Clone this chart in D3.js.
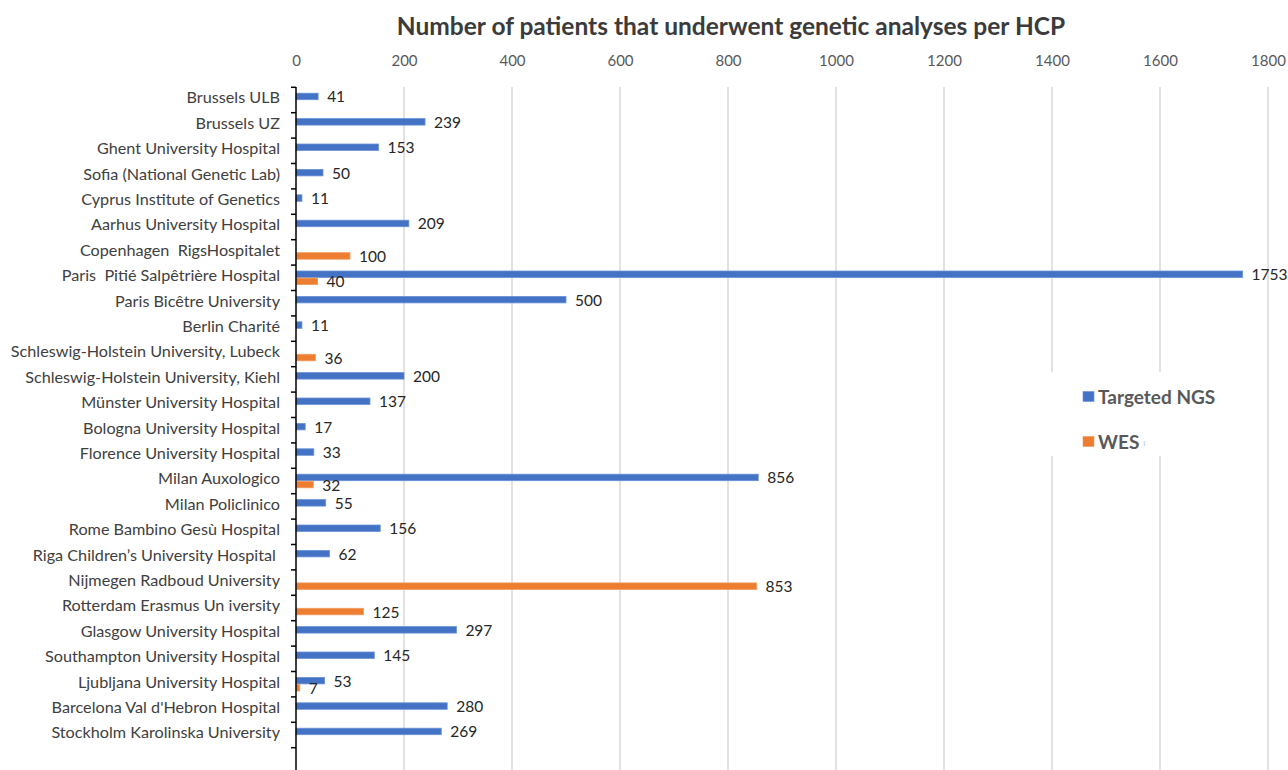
<!DOCTYPE html>
<html>
<head>
<meta charset="utf-8">
<script src="https://cdn.jsdelivr.net/npm/d3@7"></script>
<style>
  body { margin: 0; background: #fff; }
  svg text { font-family: Lato, "Open Sans", sans-serif; }
  .cat { white-space: pre; }
</style>
</head>
<body>
<svg id="chart" width="1288" height="770"></svg>
<script>
const categories = [
  "Brussels ULB", "Brussels UZ", "Ghent University Hospital", "Sofia (National Genetic Lab)",
  "Cyprus Institute of Genetics", "Aarhus University Hospital", "Copenhagen  RigsHospitalet",
  "Paris  Pitié Salpêtrière Hospital", "Paris Bicêtre University", "Berlin Charité",
  "Schleswig-Holstein University, Lubeck", "Schleswig-Holstein University, Kiehl",
  "Münster University Hospital", "Bologna University Hospital", "Florence University Hospital",
  "Milan Auxologico", "Milan Policlinico", "Rome Bambino Gesù Hospital",
  "Riga Children’s University Hospital ", "Nijmegen Radboud University",
  "Rotterdam Erasmus Un iversity", "Glasgow University Hospital", "Southampton University Hospital",
  "Ljubljana University Hospital", "Barcelona Val d'Hebron Hospital", "Stockholm Karolinska University"
];
const targetedNGS = [41, 239, 153, 50, 11, 209, null, 1753, 500, 11, null, 200, 137, 17, 33, 856, 55, 156, 62, null, null, 297, 145, 53, 280, 269];
const wes =         [null, null, null, null, null, null, 100, 40, null, null, 36, null, null, null, null, 32, null, null, null, 853, 125, null, null, 7, null, null];
const xTicks = [0, 200, 400, 600, 800, 1000, 1200, 1400, 1600, 1800];
const seriesNames = ["Targeted NGS", "WES"];
const colors = ["#4472C4", "#ED7D31"];
const strokes = ["#6a92d8", "#f29a5c"];
const title = "Number of patients that underwent genetic analyses per HCP";

const svg = d3.select("#chart");
const x = d3.scaleLinear().domain([0, 1800]).range([296, 1268]);
const y = d3.scaleBand().domain(categories).range([87.3, 747.7]).padding(0);
const axisBottomY = 770;

// gridlines
svg.append("g").selectAll("line").data(xTicks.filter(d => d > 0)).join("line")
  .attr("x1", d => x(d)).attr("x2", d => x(d))
  .attr("y1", 87).attr("y2", axisBottomY)
  .attr("stroke", "#d9d9d9").attr("stroke-width", 1.5);

// top axis labels
const xAxis = d3.axisTop(x).tickValues(xTicks).tickFormat(d3.format("d")).tickSize(0).tickPadding(0);
const gx = svg.append("g").attr("transform", "translate(0,66)").call(xAxis);
gx.select(".domain").remove();
gx.selectAll("text").attr("fill", "#595959").style("font-size", "15px")
  .style("font-family", "Lato, sans-serif");

// title
svg.append("text").attr("x", 731).attr("y", 25).attr("text-anchor", "middle")
  .attr("dominant-baseline", "central")
  .attr("fill", "#3b3b3b").style("font-size", "24.5px").style("font-weight", "bold")
  .text(title);

// bars
const bw = 6.5;
const gBars = svg.append("g");
const seriesData = [targetedNGS, wes];
seriesData.forEach((arr, si) => {
  const data = categories.map((c, i) => ({c, v: arr[i]})).filter(d => d.v != null);
  const yOff = si === 0 ? -bw - 0.3 : 0.3;
  gBars.selectAll(null).data(data).join("rect")
    .attr("x", x(0))
    .attr("y", d => y(d.c) + y.bandwidth() / 2 + yOff)
    .attr("width", d => x(d.v) - x(0))
    .attr("height", bw)
    .attr("fill", colors[si])
    .attr("stroke", strokes[si]).attr("stroke-width", 0.8);
  gBars.selectAll(null).data(data).join("text")
    .attr("x", d => x(d.v) + 9)
    .attr("y", d => y(d.c) + y.bandwidth() / 2 + yOff + bw / 2)
    .attr("dominant-baseline", "central")
    .attr("fill", "#262626").style("font-size", "15.5px")
    .text(d => d.v);
});

// y axis
const yAxisG = svg.append("g");
yAxisG.append("line").attr("x1", 296).attr("x2", 296).attr("y1", 87).attr("y2", axisBottomY)
  .attr("stroke", "#000").attr("stroke-width", 1.5);
const bounds = categories.map(c => y(c)).concat([y(categories[categories.length - 1]) + y.bandwidth()]);
yAxisG.selectAll("line.tk").data(bounds).join("line").attr("class", "tk")
  .attr("x1", 291).attr("x2", 296).attr("y1", d => d).attr("y2", d => d)
  .attr("stroke", "#000").attr("stroke-width", 1.5);
yAxisG.selectAll("text").data(categories).join("text").attr("class", "cat")
  .attr("x", 280).attr("y", d => y(d) + y.bandwidth() / 2 - 3.2)
  .attr("text-anchor", "end").attr("dominant-baseline", "central")
  .attr("fill", "#404040").style("font-size", "16.2px")
  .text(d => d);

// legend
const lg = svg.append("g");
lg.append("rect").attr("x", 1045).attr("y", 372).attr("width", 180).attr("height", 84).attr("fill", "#fff");
seriesNames.forEach((n, i) => {
  const cy = 396.5 + i * 45;
  lg.append("rect").attr("x", 1083).attr("y", cy - 5).attr("width", 11).attr("height", 10)
    .attr("fill", colors[i]).attr("stroke", strokes[i]).attr("stroke-width", 0.6);
  lg.append("text").attr("x", 1098).attr("y", cy).attr("dominant-baseline", "central")
    .attr("fill", "#595959").style("font-size", "19px").style("font-weight", "bold")
    .text(n);
});
lg.append("text").attr("x", 1143).attr("y", 441.5).attr("dominant-baseline", "central")
  .attr("fill", "#cccccc").style("font-size", "10px").text("ı");
</script>
</body>
</html>
